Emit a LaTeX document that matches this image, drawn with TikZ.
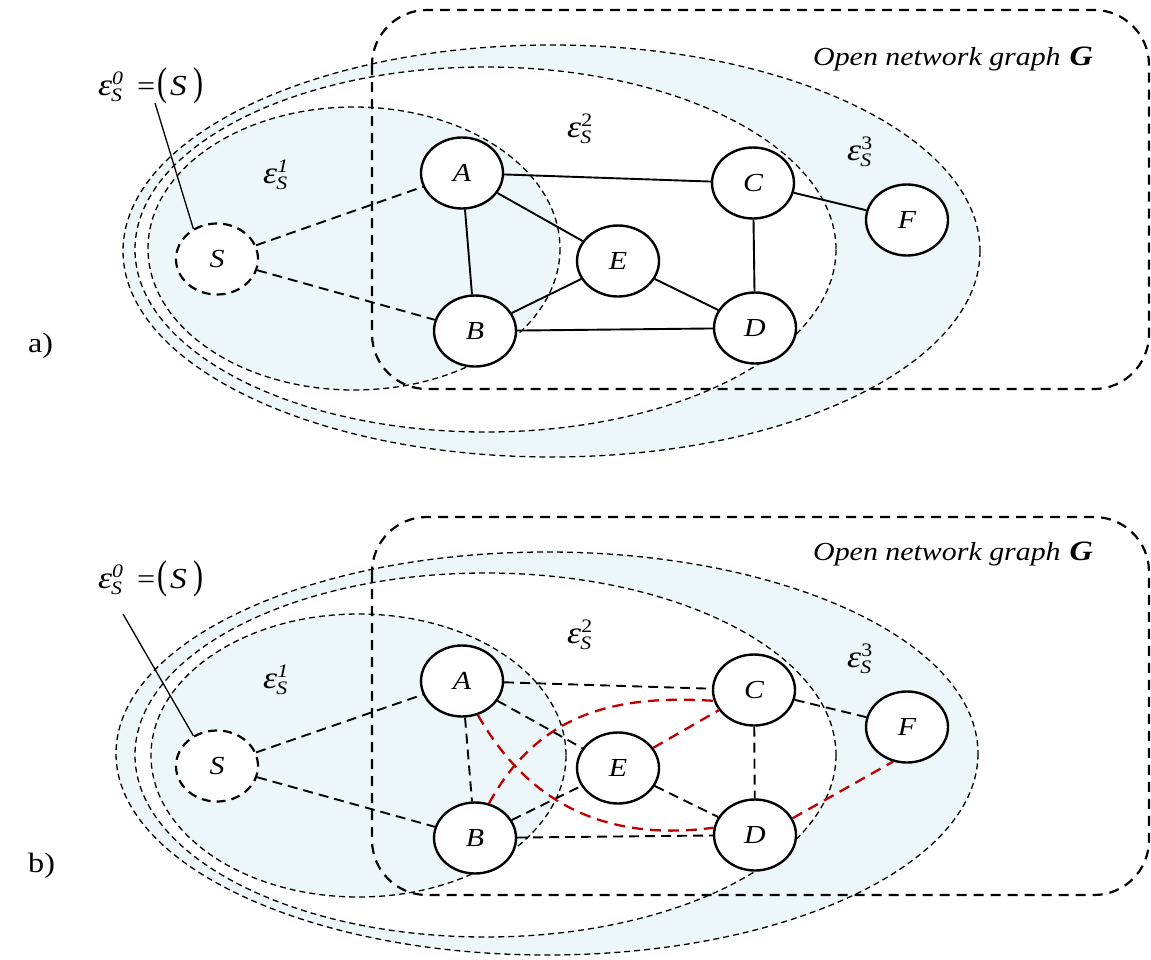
\documentclass[tikz,border=0pt]{standalone}
\usepackage{fontspec}
\setmainfont{Liberation Serif}
\usetikzlibrary{shapes.geometric}
\definecolor{ringfill}{RGB}{237,246,249}
\definecolor{redline}{RGB}{192,0,0}
\newcommand{\hs}[1]{\scalebox{1.15}[1]{#1}}
\newcommand{\epsS}[1]{\hs{\fontsize{31}{31}\selectfont\itshape ε}\rlap{\raisebox{11pt}{\hs{\fontsize{19}{19}\selectfont #1}}}\kern-1pt\raisebox{-6pt}{\hs{\fontsize{19}{19}\selectfont\itshape S}}}
\newcommand{\epsZero}{\makebox[39pt][l]{\epsS{\itshape 0}}\makebox[20pt][l]{\hs{\fontsize{28}{28}\selectfont=}}\makebox[13pt][l]{\scalebox{0.75}[1]{\fontsize{40}{40}\selectfont(}}\makebox[23pt][l]{\hs{\fontsize{29}{29}\selectfont\itshape S}}\scalebox{0.75}[1]{\fontsize{40}{40}\selectfont)}}
\newcommand{\gtitle}{\hs{\fontsize{26}{26}\selectfont\itshape Open network graph}\hspace{9pt}\hs{\fontsize{28}{28}\selectfont\bfseries\itshape G}}
\tikzset{
  gnode/.style={ellipse, draw, line width=2.4pt, fill=white, minimum width=82pt, minimum height=71pt, inner sep=0pt, font=\fontsize{26}{26}\selectfont\itshape},
  snode/.style={gnode, dash pattern=on 9pt off 6pt, line width=2.2pt},
  solidedge/.style={line width=1.9pt},
  dashedge/.style={line width=1.9pt, dash pattern=on 10pt off 6pt},
  rededge/.style={line width=2.3pt, draw=redline, dash pattern=on 11pt off 7pt},
  ring/.style={line width=1.3pt, dash pattern=on 6pt off 4pt},
  graphbox/.style={line width=2.2pt, dash pattern=on 10pt off 7pt, rounded corners=55pt},
  lbl/.style={inner sep=0pt, anchor=base west},
  pointer/.style={line width=1.3pt}
}
\begin{document}
\begin{tikzpicture}[x=1pt,y=-1pt]
\useasboundingbox (0,0) rectangle (1151,959);
% ---------------- panel a : rings and box ----------------
\fill[ringfill, even odd rule]
  (551.5,251) ellipse [x radius=428.5, y radius=206]
  (485.5,249.5) ellipse [x radius=350.5, y radius=182.5]
  (354,248.5) ellipse [x radius=206, y radius=141.5];
\draw[ring] (551.5,251) ellipse [x radius=428.5, y radius=206];
\draw[ring] (485.5,249.5) ellipse [x radius=350.5, y radius=182.5];
\draw[ring] (354,248.5) ellipse [x radius=206, y radius=141.5];
\draw[graphbox] (372,10) rectangle (1149,389);
% ---------------- panel b : rings and box ----------------
\fill[ringfill, even odd rule]
  (547,753.5) ellipse [x radius=431, y radius=201.5]
  (485.5,755) ellipse [x radius=350.5, y radius=182]
  (358.5,755.5) ellipse [x radius=207.5, y radius=141.5];
\draw[ring] (547,753.5) ellipse [x radius=431, y radius=201.5];
\draw[ring] (485.5,755) ellipse [x radius=350.5, y radius=182];
\draw[ring] (358.5,755.5) ellipse [x radius=207.5, y radius=141.5];
\draw[graphbox] (372,517) rectangle (1149,895);
% ---------------- panel a ----------------
\node[snode] (Sa) at (217,259) {\hs{S}};
\node[gnode] (Aa) at (462,173) {\hs{A}};
\node[gnode] (Ba) at (475,331) {\hs{B}};
\node[gnode] (Ea) at (618,261) {\hs{E}};
\node[gnode] (Ca) at (753,183) {\hs{C}};
\node[gnode] (Da) at (755,328) {\hs{D}};
\node[gnode] (Fa) at (907,220) {\hs{F}};
\draw[dashedge] (Sa) -- (Aa);
\draw[dashedge] (Sa) -- (Ba);
\draw[solidedge] (Aa) -- (Ca);
\draw[solidedge] (Aa) -- (Ea);
\draw[solidedge] (Aa) -- (Ba);
\draw[solidedge] (Ba) -- (Ea);
\draw[solidedge] (Ba) -- (Da);
\draw[solidedge] (Ea) -- (Da);
\draw[solidedge] (Ca) -- (Da);
\draw[solidedge] (Ca) -- (Fa);
\node[lbl] (e1a) at (263,183) {\epsS{\itshape 1}};
\node[lbl] (e2a) at (567,137) {\epsS{2}};
\node[lbl] (e3a) at (847,160) {\epsS{3}};
\node[lbl] (e0a) at (98,95) {\epsZero};
\coordinate (p0a) at (155,103);
\draw[pointer] (p0a) -- (Sa.128);
\node[lbl] (Ga) at (813,65) {\gtitle};
\node[lbl] (la) at (28,352) {\hs{\fontsize{28}{28}\selectfont a)}};
% ---------------- panel b ----------------
\node[snode] (Sb) at (217,766) {\hs{S}};
\node[gnode] (Ab) at (462,681) {\hs{A}};
\node[gnode] (Bb) at (475,838) {\hs{B}};
\node[gnode] (Eb) at (618,768) {\hs{E}};
\node[gnode] (Cb) at (754,690) {\hs{C}};
\node[gnode] (Db) at (755,835) {\hs{D}};
\node[gnode] (Fb) at (907,727) {\hs{F}};
\draw[dashedge] (Sb) -- (Ab);
\draw[dashedge] (Sb) -- (Bb);
\draw[dashedge] (Ab) -- (Cb);
\draw[dashedge] (Ab) -- (Eb);
\draw[dashedge] (Ab) -- (Bb);
\draw[dashedge] (Bb) -- (Eb);
\draw[dashedge] (Bb) -- (Db);
\draw[dashedge] (Eb) -- (Db);
\draw[dashedge] (Cb) -- (Db);
\draw[dashedge] (Cb) -- (Fb);
\draw[rededge] (Ab.295) .. controls (535,815) and (620,840) .. (Db.170);
\draw[rededge] (Bb.68) .. controls (540,710) and (620,695) .. (Cb.195);
\draw[rededge] (Eb) -- (Cb);
\draw[rededge] (Db.24) -- (Fb.248);
\node[lbl] (e1b) at (263,688) {\epsS{\itshape 1}};
\node[lbl] (e2b) at (567,643) {\epsS{2}};
\node[lbl] (e3b) at (847,667) {\epsS{3}};
\node[lbl] (e0b) at (98,588) {\epsZero};
\coordinate (p0b) at (123,614);
\draw[pointer] (p0b) -- (Sb.128);
\node[lbl] (Gb) at (813,560) {\gtitle};
\node[lbl] (lb) at (28,872) {\hs{\fontsize{28}{28}\selectfont b)}};
\end{tikzpicture}
\end{document}
